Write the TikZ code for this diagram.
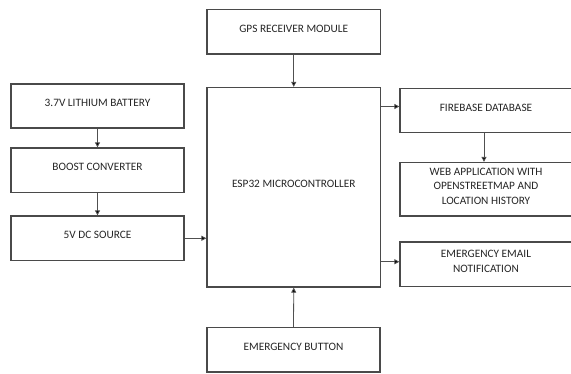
\documentclass[tikz,border=0pt]{standalone}
\usepackage{fontspec}
\setmainfont{Carlito}
\usetikzlibrary{arrows.meta,calc}
\definecolor{boxline}{HTML}{4A4A4A}
\definecolor{arrline}{HTML}{505050}
\tikzset{
  box/.style={draw=boxline, line width=1.3pt, fill=white, inner sep=0pt},
  lbl/.style={font=\fontsize{11.3}{14.6}\selectfont, text=black!85, align=center, yshift=3pt},
  arr/.style={draw=arrline, line width=0.8pt, -{Triangle[length=5pt,width=5pt,fill=black]}}
}
\newcommand{\mybox}[6]{%
  \node[box, minimum width={(#4-#2)*1pt}, minimum height={(#5-#3)*1pt},
        label={[lbl]center:#6}] (#1) at ({(#2+#4)/2},{(#3+#5)/2}) {};}
\begin{document}
\begin{tikzpicture}[x=1pt,y=-1pt]
\useasboundingbox (0,0) rectangle (571,373);
\fill[white] (0,0) rectangle (571,373);
\mybox{gps}{207}{9.5}{380.5}{54}{GPS RECEIVER MODULE}
\mybox{bat}{11}{84}{184}{128}{3.7V LITHIUM BATTERY}
\mybox{boost}{11}{148}{184}{192.5}{BOOST CONVERTER}
\mybox{dc}{11}{216}{184}{260.5}{5V DC SOURCE}
\mybox{esp}{207}{87.5}{380.5}{287}{ESP32 MICROCONTROLLER}
\mybox{fb}{400}{88.5}{572}{132.5}{FIREBASE DATABASE}
\mybox{web}{400}{162.5}{572}{216}{WEB APPLICATION WITH\\OPENSTREETMAP AND\\LOCATION HISTORY}
\mybox{email}{400}{242}{572}{286.5}{EMERGENCY EMAIL\\NOTIFICATION}
\mybox{btn}{207}{327.5}{380}{372}{EMERGENCY BUTTON}
\draw[arr] (gps.south) -- (esp.north);
\draw[arr] (bat.south) -- (boost.north);
\draw[arr] (boost.south) -- (dc.north);
\draw[arr] (dc.east) -- (dc.east -| esp.west);
\draw[arr] ([yshift=4pt]fb.west -| esp.east) -- ([yshift=4pt]fb.west);
\draw[arr] ([xshift=-2pt]fb.south) -- ([xshift=-2pt]fb.south |- web.north);
\draw[arr] ([yshift=2.5pt]email.west -| esp.east) -- ([yshift=2.5pt]email.west);
\draw[arr] (btn.north) -- (esp.south);
\end{tikzpicture}
\end{document}
